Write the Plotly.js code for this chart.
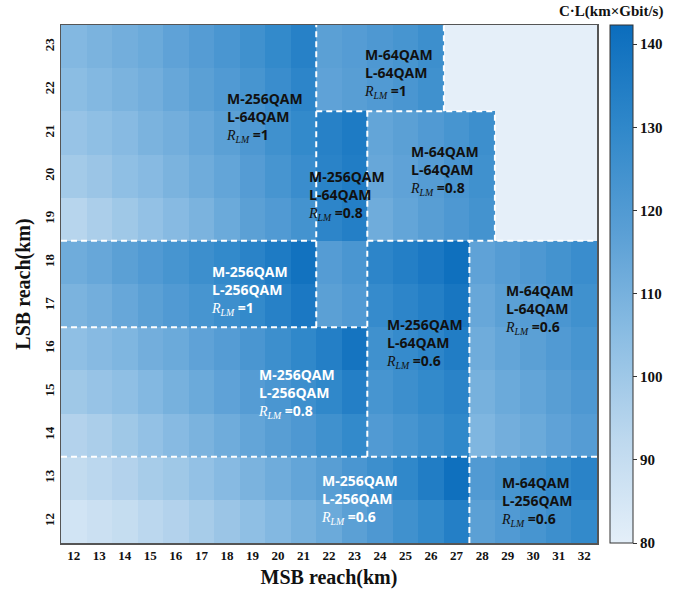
<!DOCTYPE html>
<html>
<head>
<meta charset="utf-8">
<script src="https://cdn.plot.ly/plotly-3.0.1.min.js"></script>
<style>body{margin:0;background:#fff}#chart{width:681px;height:594px}</style>
</head>
<body>
<div id="chart"></div>
<script>
// MSB reach (km) columns and LSB reach (km) rows
const msbReach = [12,13,14,15,16,17,18,19,20,21,22,23,24,25,26,27,28,29,30,31,32];
const lsbReach = [12,13,14,15,16,17,18,19,20,21,22,23];
const N = null;
// C·L values (km×Gbit/s), one array per LSB reach row (x = 12..32)
const row12 = [86,88,90,93,95,98,101,104,107,110,113,117,121,125,129,134,117,120,123,126,129];
const row13 = [91,93,95,98,100,103,106,109,112,115,118,122,126,130,135,141,120,123,126,129,132];
const row14 = [95,97,100,103,106,109,112,115,118,121,125,129,120,123,126,130,108,111,113,116,119];
const row15 = [100,102,104,107,110,113,116,119,122,126,130,134,123,126,129,132,110,113,115,118,121];
const row16 = [104,106,108,111,113,116,119,122,126,130,134,139,125,128,131,135,112,115,117,120,123];
const row17 = [109,111,114,117,120,123,126,129,133,137,117,120,128,131,134,138,114,117,119,122,125];
const row18 = [112,114,117,120,123,126,129,132,136,140,119,122,131,134,137,141,116,119,121,124,127];
const row19 = [94,97,100,103,106,109,113,117,120,124,131,134,112,115,118,121,124,N,N,N,N];
const row20 = [99,101,104,106,109,112,115,119,123,127,132,135,114,116,119,122,125,N,N,N,N];
const row21 = [102,104,106,109,111,114,117,121,125,129,133,136,115,117,120,123,126,N,N,N,N];
const row22 = [105,107,109,111,114,117,120,123,127,131,116,118,120,122,125,N,N,N,N,N,N];
const row23 = [107,109,111,113,116,119,122,125,129,133,117,119,121,123,126,N,N,N,N,N,N];
const zRows = [row12,row13,row14,row15,row16,row17,row18,row19,row20,row21,row22,row23];

// Region boundaries (cell edges): [x0, y0, x1, y1]
const regionBorders = [
  [21.5,16.5,21.5,23.5],[26.5,21.5,26.5,23.5],[21.5,21.5,28.5,21.5],
  [23.5,13.5,23.5,21.5],[28.5,18.5,28.5,21.5],[11.5,18.5,21.5,18.5],
  [23.5,18.5,32.5,18.5],[11.5,16.5,23.5,16.5],[11.5,13.5,32.5,13.5],
  [27.5,11.5,27.5,18.5]
];
// Region labels: M format, L format, R_LM, label anchor (x,y), text colour
const labelM = ['M-256QAM','M-64QAM','M-256QAM','M-64QAM','M-256QAM','M-256QAM','M-256QAM','M-64QAM','M-256QAM','M-64QAM'];
const labelL = ['L-64QAM','L-64QAM','L-64QAM','L-64QAM','L-256QAM','L-256QAM','L-64QAM','L-64QAM','L-256QAM','L-256QAM'];
const labelR = ['1','1','0.8','0.8','1','0.8','0.6','0.6','0.6','0.6'];
const labelX = [17.9,23.3,21.1,25.1,17.3,19.15,24.15,28.8,21.6,28.65];
const labelY = [21.37,22.39,19.56,20.14,17.36,14.98,16.13,16.92,12.52,12.47];
const labelC = ['#111','#111','#111','#111','#fff','#fff','#111','#111','#fff','#111'];

const serif = "'Liberation Serif','Times New Roman',serif";
const sans = "'Open Sans','Noto Sans',sans-serif";

const colorscale = [
  [0,'#e4eff9'],[0.2,'#bdd8ee'],[0.4,'#8bbde3'],[0.6,'#5a9fd5'],[0.8,'#3088ca'],[1,'#0b6dbd']
];

const trace = {
  type:'heatmap', x:msbReach, y:lsbReach, z:zRows,
  zmin:80, zmax:142.3, colorscale:colorscale, zsmooth:false,
  hoverongaps:false,
  colorbar:{
    x:1.024, xanchor:'left', xpad:0, ypad:0, y:0.5, yanchor:'middle', len:1,
    thickness:23, outlinewidth:1, outlinecolor:'#333',
    tickvals:[80,90,100,110,120,130,140], ticks:'outside', ticklen:4, tickcolor:'#333',
    tickfont:{family:serif, size:15, color:'#111', weight:'bold'}
  }
};

const shapes = regionBorders.map(b => ({
  type:'line', xref:'x', yref:'y', x0:b[0], y0:b[1], x1:b[2], y1:b[3],
  line:{color:'#ffffff', width:2, dash:'6px,4px'}
}));

const annotations = labelM.map((m,i) => ({
  xref:'x', yref:'y', x:labelX[i], y:labelY[i], xanchor:'left', yanchor:'middle', align:'left',
  showarrow:false,
  font:{family:sans, size:14, color:labelC[i], weight:'bold'},
  text: m + '<br>' + labelL[i] + '<br>' +
    "<span style=\"font-family:'Liberation Serif',serif;font-style:italic;font-weight:normal\">R<sub>LM</sub></span> =" + labelR[i]
}));
annotations.push({
  xref:'paper', yref:'paper', x:1.127, y:1.0, xanchor:'right', yanchor:'bottom', yshift:3,
  showarrow:false, text:'C·L(km×Gbit/s)',
  font:{family:serif, size:15, color:'#111', weight:'bold'}
});

const layout = {
  width:681, height:594,
  margin:{l:61, r:84, t:25, b:51, pad:0},
  paper_bgcolor:'#ffffff', plot_bgcolor:'#e5eff9',
  showlegend:false,
  xaxis:{
    range:[11.5,32.5], tickvals:msbReach, ticks:'', showgrid:false, zeroline:false,
    showline:true, mirror:true, linecolor:'#555', linewidth:1.5,
    tickfont:{family:serif, size:13, color:'#111', weight:'bold'},
    title:{text:'MSB reach(km)', font:{family:serif, size:20, color:'#111', weight:'bold'}, standoff:8}
  },
  yaxis:{
    range:[11.5,23.5], tickvals:lsbReach, ticks:'', showgrid:false, zeroline:false,
    showline:true, mirror:true, linecolor:'#555', linewidth:1.5, tickangle:-90,
    tickfont:{family:serif, size:13, color:'#111', weight:'bold'},
    title:{text:'LSB reach(km)', font:{family:serif, size:20, color:'#111', weight:'bold'}, standoff:6}
  },
  shapes:shapes,
  annotations:annotations
};

Plotly.newPlot('chart',[trace],layout,{displayModeBar:false, staticPlot:true});
</script>
</body>
</html>
